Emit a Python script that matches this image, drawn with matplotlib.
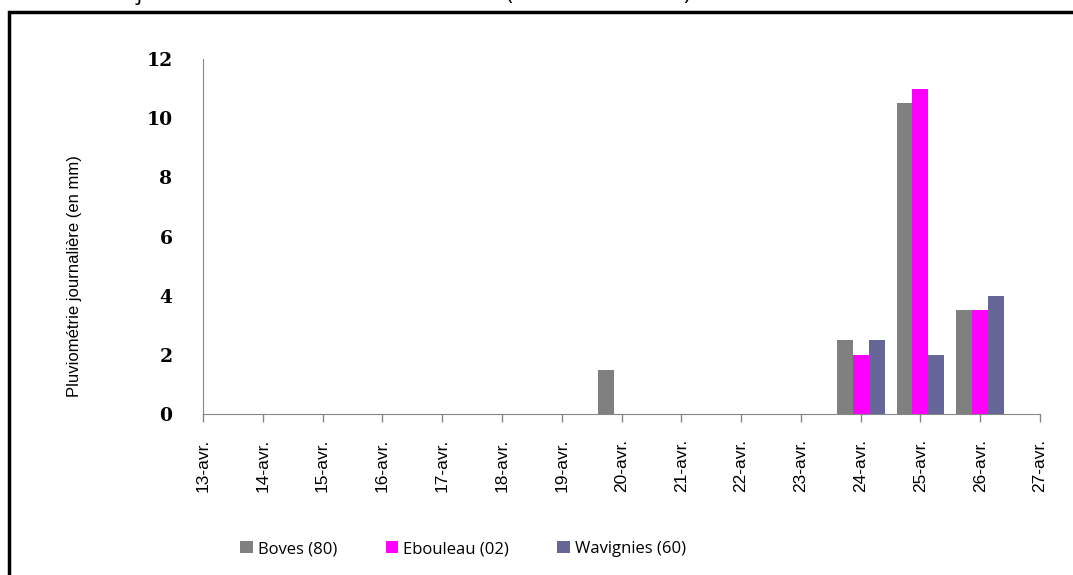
import numpy as np
import matplotlib.pyplot as plt
from matplotlib.patches import Rectangle

# data
days = np.arange(13, 28)
day_labels = [f"{d}-avr." for d in days]
bar_days = np.array([20, 24, 25, 26])
boves = [1.5, 2.5, 10.5, 3.5]
ebouleau = [0.0, 2.0, 11.0, 3.5]
wavignies = [0.0, 2.5, 2.0, 4.0]
series_names = ["Boves (80)", "Ebouleau (02)", "Wavignies (60)"]
colors = ["#808080", "#FF00FF", "#666699"]

fig = plt.figure(figsize=(10.73, 5.75), dpi=100)
ax = fig.add_axes([203/1073, 1-414/575, (1040-203)/1073, (414-59)/575])

w = 0.8/3
for i, (vals, name, c) in enumerate(zip([boves, ebouleau, wavignies], series_names, colors)):
    v = np.array(vals)
    m = v > 0
    ax.bar(bar_days[m] + (i-1)*w, v[m], width=w, color=c, label=name, linewidth=0)

ax.set_xlim(13, 27)
ax.set_ylim(0, 12)
ax.set_xticks(days)
ax.set_xticklabels(day_labels, rotation=90, family='Liberation Sans',
                   fontsize=12.5, va='top', ha='center')
ax.set_yticks(np.arange(0, 13, 2))
ax.set_yticklabels([str(v) for v in range(0, 13, 2)], family='DejaVu Serif', fontweight='bold', fontsize=13.5)
ax.tick_params(axis='y', length=0, pad=22)
ax.tick_params(axis='x', length=6, width=1, color='#868686', pad=12)
for s in ['top', 'right']:
    ax.spines[s].set_visible(False)
for s in ['left', 'bottom']:
    ax.spines[s].set_color('#868686')

fig.text(75/1073, 1-276/575, "Pluviométrie journalière (en mm)", rotation=90, ha='center', va='center',
         family='Liberation Sans', fontsize=12)

handles, labels = ax.get_legend_handles_labels()
fig.legend(handles, labels, loc='center', bbox_to_anchor=(463/1073, 1-549/575), ncol=3, frameon=False,
           prop={'family': 'Open Sans', 'size': 12}, handlelength=0.75, handleheight=0.75,
           handletextpad=0.3, columnspacing=2.9)

# partially cut-off title at the top
fig.text(0/1073, 1.0, "Pluviométrie journalière des stations de Picardie (du 13 au 27 avril)",
         ha='left', va='baseline', fontsize=16, family='Open Sans')

# outer frame (extends beyond the image)
fig.patches.append(Rectangle((9/1073, -0.1), 1.2, 1-12/575+0.1, transform=fig.transFigure,
                             fill=False, edgecolor='black', linewidth=2.5))

fig.savefig("out.png", dpi=100)
